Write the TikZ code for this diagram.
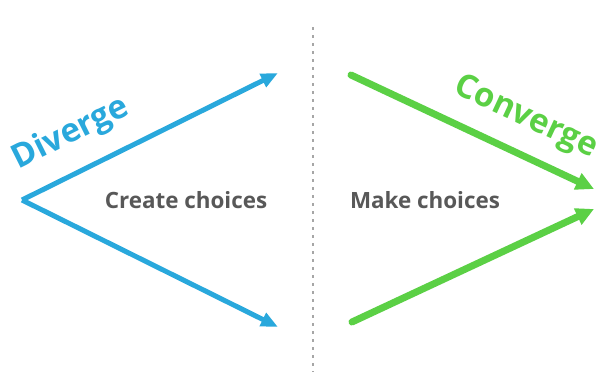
\documentclass[tikz,border=0pt]{standalone}
\usepackage{fontspec}
\setmainfont{Open Sans}
\usetikzlibrary{arrows.meta}
\definecolor{divblue}{HTML}{29A8DC}
\definecolor{convgreen}{HTML}{5BD045}
\definecolor{txtgray}{HTML}{585858}
\tikzset{
	divarrow/.style={line width=5pt, divblue, -{Triangle[length=17pt,width=14pt]}, line join=round},
	convarrow/.style={line width=7pt, convgreen, line cap=round, -{Triangle[length=18pt,width=17pt]}},
	lbl/.style={font=\fontsize{22.4}{26}\selectfont\bfseries, text=txtgray},
	big/.style={font=\fontsize{33}{38}\selectfont\bfseries}
}
\begin{document}
\begin{tikzpicture}[x=1pt,y=-1pt]
	\useasboundingbox (0,0) rectangle (602,372);

	% divider
	\coordinate (top) at (313,27);
	\coordinate (bot) at (313,372);
	\draw[gray!70, line width=1.2pt, dash pattern=on 3pt off 5pt] (top) -- (bot);

	% diverge
	\coordinate (v) at (22,200);
	\coordinate (d1) at (278,73);
	\coordinate (d2) at (278,327);
	\draw[divarrow] (v) -- (d1);
	\draw[divarrow] (v) -- (d2);
	\node[big, text=divblue, rotate=26.5] (div) at (71,134) {Diverge};
	\node[lbl] (create) at (186,200) {Create choices};

	% converge
	\coordinate (c1) at (351,75);
	\coordinate (c2) at (352,322);
	\coordinate (t1) at (594,189);
	\coordinate (t2) at (594,209);
	\draw[convarrow] (c1) -- (t1);
	\draw[convarrow] (c2) -- (t2);
	\node[big, text=convgreen, rotate=-25] (conv) at (526,118) {Converge};
	\node[lbl] (make) at (425,200) {Make choices};
\end{tikzpicture}
\end{document}
